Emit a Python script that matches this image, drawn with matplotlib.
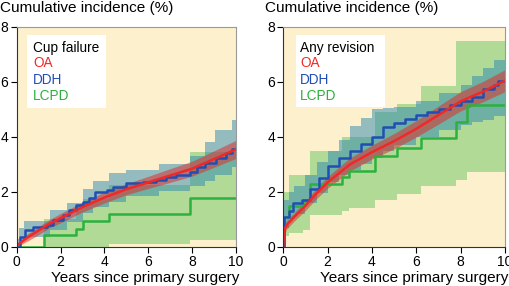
import numpy as np
import matplotlib
matplotlib.use("Agg")
from matplotlib import pyplot as plt

plt.rcParams["font.family"] = ["Liberation Sans", "DejaVu Sans"]

# ---- colours
bg = "#fdf0cc"
red_line, blue_line, green_line = "#f02828", "#1f4fb4", "#2db13e"
red_fill, blue_fill, green_fill = "#dc322d", "#2d87af", "#67c664"

# ---- Cup failure (left)
cup_oa_x = [0, 0.5, 1, 1.5, 2, 3, 4, 5, 6, 7, 8, 9, 10]
cup_oa_y = [0.05, 0.35, 0.6, 0.85, 1.05, 1.45, 1.8, 2.1, 2.35, 2.6, 2.85, 3.2, 3.55]
cup_oa_lo = [0, 0.22, 0.45, 0.7, 0.88, 1.27, 1.6, 1.9, 2.13, 2.35, 2.58, 2.9, 3.22]
cup_oa_hi = [0.12, 0.48, 0.75, 1.0, 1.22, 1.63, 2.0, 2.3, 2.57, 2.85, 3.12, 3.5, 3.88]

cup_ddh_x = [0, 0.15, 0.38, 0.75, 1.4, 1.65, 2.1, 2.4, 2.7, 3.0, 3.3, 3.55, 4.1, 4.4,
             5.0, 5.75, 6.35, 6.8, 7.25, 7.9, 8.2, 8.6, 9.1, 9.55, 9.8, 10]
cup_ddh_y = [0, 0.38, 0.62, 0.74, 0.8, 0.98, 1.16, 1.35, 1.53, 1.65, 1.77, 2.0, 2.07, 2.19,
             2.31, 2.37, 2.44, 2.56, 2.62, 2.74, 2.92, 3.04, 3.22, 3.4, 3.58, 3.58]
cup_ddh_bx = [0, 0.1, 0.35, 1.5, 2.3, 3.0, 3.5, 4.2, 5.0, 6.5, 7.9, 8.6, 9.05, 9.8, 10]
cup_ddh_lo = [0, 0.2, 0.35, 0.6, 0.9, 1.25, 1.45, 1.65, 1.85, 2.05, 2.2, 2.4, 2.6, 2.9, 2.9]
cup_ddh_hi = [0.3, 0.7, 0.95, 1.35, 1.6, 2.1, 2.4, 2.7, 2.8, 3.0, 3.3, 3.8, 4.25, 4.6, 4.6]

cup_lcpd_x = [0, 1.24, 2.7, 3.03, 4.2, 7.9, 10]
cup_lcpd_y = [0, 0.43, 0.67, 0.93, 1.2, 1.78, 1.78]
cup_lcpd_lo = [0, 0, 0, 0, 0.12, 0.25, 0.25]
cup_lcpd_hi = [0, 1.0, 1.5, 1.75, 2.25, 3.45, 3.45]

# ---- Any revision (right)
rev_oa_x = [0, 0.03, 0.15, 0.5, 1, 1.5, 2, 3, 4, 5, 6, 7, 8, 9, 10]
rev_oa_y = [0, 0.6, 0.8, 1.1, 1.5, 1.95, 2.35, 3.0, 3.45, 3.85, 4.3, 4.8, 5.3, 5.65, 6.05]
rev_oa_lo = [0, 0.45, 0.65, 0.95, 1.33, 1.76, 2.14, 2.76, 3.2, 3.57, 4.0, 4.47, 4.95, 5.28, 5.65]
rev_oa_hi = [0, 0.75, 0.95, 1.25, 1.67, 2.14, 2.56, 3.24, 3.7, 4.13, 4.6, 5.13, 5.65, 6.02, 6.45]

rev_ddh_x = [0, 0.05, 0.25, 0.45, 0.85, 1.2, 1.6, 2.0, 2.5, 3.0, 3.5, 4.0, 4.5, 5, 5.5,
             6, 6.5, 7, 7.5, 8, 8.5, 9, 9.5, 9.7, 10]
rev_ddh_y = [0, 1.1, 1.3, 1.6, 1.7, 2.1, 2.5, 2.95, 3.25, 3.5, 3.75, 4.0, 4.35, 4.5, 4.65,
             4.8, 4.9, 5.0, 5.15, 5.3, 5.45, 5.75, 5.9, 6.05, 6.05]
rev_ddh_bx = [0, 0.05, 0.25, 0.5, 1.0, 1.5, 2.0, 2.5, 3.0, 3.5, 4.0, 4.5, 5.0, 6.0, 7.0,
              8.0, 8.5, 9.0, 9.5, 10]
rev_ddh_lo = [0, 0.7, 1.0, 1.2, 1.6, 1.95, 2.35, 2.6, 2.8, 3.0, 3.25, 3.5, 3.7, 4.0, 4.25,
              4.45, 4.55, 4.6, 4.75, 4.9]
rev_ddh_hi = [0, 1.7, 2.0, 2.2, 2.6, 3.1, 3.5, 3.9, 4.4, 4.7, 5.0, 5.05, 5.1, 5.3, 5.6,
              5.9, 6.2, 6.5, 6.8, 7.05]

rev_lcpd_x = [0, 0.03, 0.25, 0.9, 1.2, 2.65, 2.95, 4.15, 5.15, 6.2, 7.8, 8.3, 10]
rev_lcpd_y = [0, 1.1, 1.5, 1.72, 2.3, 2.55, 2.78, 3.3, 3.6, 3.98, 4.55, 5.15, 5.15]
rev_lcpd_lo = [0, 0.4, 0.5, 0.6, 1.18, 1.3, 1.42, 1.72, 1.94, 2.2, 2.45, 2.71, 2.71]
rev_lcpd_hi = [0, 2.0, 2.6, 2.6, 3.5, 4.0, 4.0, 4.9, 5.2, 5.85, 7.5, 7.5, 7.5]

fig = plt.figure(figsize=(5.09, 2.86), dpi=100)
ax1 = fig.add_axes([0.0328, 0.1364, 0.431, 0.7692])
ax2 = fig.add_axes([0.5566, 0.1364, 0.4356, 0.7692])


def draw(ax, title, oa, ddh, lcpd):
    ax.set_facecolor(bg)
    # confidence bands
    ax.fill_between(lcpd[0], lcpd[2], lcpd[3], step="post", color=green_fill, alpha=0.5, lw=0)
    ax.fill_between(ddh[2], ddh[3], ddh[4], step="post", color=blue_fill, alpha=0.5, lw=0)
    ax.fill_between(oa[0], oa[2], oa[3], color=red_fill, alpha=0.55, lw=0)
    # estimates
    ax.step(lcpd[0], lcpd[1], where="post", color=green_line, lw=1.8)
    ax.step(ddh[0], ddh[1], where="post", color=blue_line, lw=1.8)
    ax.plot(oa[0], oa[1], color=red_line, lw=1.8)

    ax.set_xlim(0, 10)
    ax.set_ylim(0, 8)
    ax.set_xticks([0, 2, 4, 6, 8, 10])
    ax.set_yticks([0, 2, 4, 6, 8])
    ax.tick_params(direction="out", length=4, width=0.8, labelsize=10, pad=2)
    for s in ["left", "bottom"]:
        ax.spines[s].set_color("#333333")
        ax.spines[s].set_linewidth(0.8)
    for s in ["top", "right"]:
        ax.spines[s].set_color("#999999")
        ax.spines[s].set_linewidth(0.8)

    # legend box
    ax.text(0.75, 7.25, title, fontsize=9.8, color="black", va="center", zorder=6)
    ax.text(0.75, 6.68, "OA", fontsize=9.8, color=red_line, va="center", zorder=6)
    ax.text(0.75, 6.08, "DDH", fontsize=9.8, color=blue_line, va="center", zorder=6)
    ax.text(0.75, 5.5, "LCPD", fontsize=9.8, color=green_line, va="center", zorder=6)


draw(ax1, "Cup failure",
     (cup_oa_x, cup_oa_y, cup_oa_lo, cup_oa_hi),
     (cup_ddh_x, cup_ddh_y, cup_ddh_bx, cup_ddh_lo, cup_ddh_hi),
     (cup_lcpd_x, cup_lcpd_y, cup_lcpd_lo, cup_lcpd_hi))
draw(ax2, "Any revision",
     (rev_oa_x, rev_oa_y, rev_oa_lo, rev_oa_hi),
     (rev_ddh_x, rev_ddh_y, rev_ddh_bx, rev_ddh_lo, rev_ddh_hi),
     (rev_lcpd_x, rev_lcpd_y, rev_lcpd_lo, rev_lcpd_hi))

# white boxes behind the legend text
ax1.add_patch(plt.Rectangle((0.47, 5.05), 3.6, 2.66, facecolor="white", edgecolor="none", zorder=5))
ax2.add_patch(plt.Rectangle((0.57, 5.1), 4.03, 2.6, facecolor="white", edgecolor="none", zorder=5))

fig.text(0.0, 1 - 8 / 286, "Cumulative incidence (%)", fontsize=11, va="center", ha="left")
fig.text(265 / 509, 1 - 8 / 286, "Cumulative incidence (%)", fontsize=11, va="center", ha="left")
fig.text(239 / 509, 1 - 278 / 286, "Years since primary surgery", fontsize=11, va="center", ha="right")
fig.text(508 / 509, 1 - 278 / 286, "Years since primary surgery", fontsize=11, va="center", ha="right")

fig.savefig("out.png", dpi=100)
